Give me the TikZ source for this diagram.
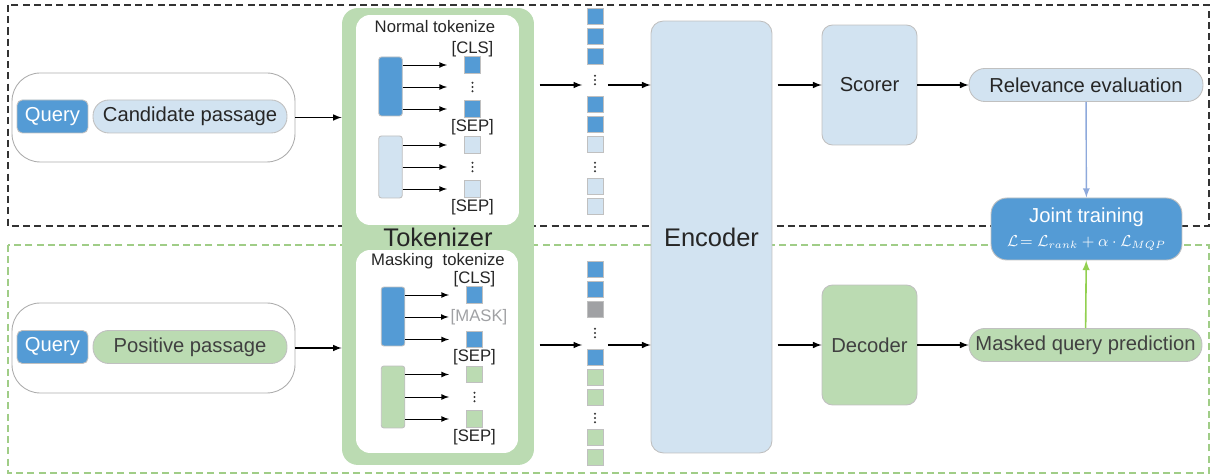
\documentclass[tikz,border=0pt]{standalone}
\usepackage{fontspec}
\setmainfont{Liberation Sans}
\usepackage{amsmath}
\usetikzlibrary{positioning, arrows, calc}

\definecolor{qblue}{RGB}{84,155,213}
\definecolor{lblue}{RGB}{210,227,241}
\definecolor{lgreen}{RGB}{187,219,178}
\definecolor{mgray}{RGB}{160,161,164}
\definecolor{edgegray}{RGB}{192,192,192}
\definecolor{txtgray}{RGB}{38,38,38}
\definecolor{darktxt}{RGB}{64,64,64}
\definecolor{arrblue}{RGB}{142,169,219}
\definecolor{arrgreen}{RGB}{146,208,80}
\definecolor{dashgreen}{RGB}{160,205,135}

\tikzset{
	blk/.style={draw=edgegray, line width=0.5pt, rectangle, rounded corners=6pt, inner sep=0pt, text=txtgray, font=\fontsize{11.5}{13}\selectfont},
	bigfont/.style={font=\fontsize{14.5}{16}\selectfont},
	pill/.style={blk, rounded corners=9pt, minimum height=0.66cm},
	qbox/.style={blk, fill=qblue, text=white, rounded corners=3pt, minimum width=1.42cm, minimum height=0.66cm},
	inbox/.style={draw=edgegray!90!black, line width=0.5pt, rounded corners=16pt},
	seg/.style={draw=edgegray, line width=0.5pt, rounded corners=1.5pt, minimum width=0.47cm, inner sep=0pt},
	tok/.style={draw=edgegray, line width=0.5pt, minimum size=0.33cm, inner sep=0pt},
	coltok/.style={tok, minimum size=0.32cm},
	lbl/.style={font=\fontsize{9.5}{10}\selectfont, text=txtgray, inner sep=1pt},
	dotcol/.style={inner sep=0pt, minimum width=0.33cm, minimum height=0.3cm,
		path picture={\foreach \d in {-2.4,0,2.4} \fill[black!80] ([yshift=\d pt]path picture bounding box.center) circle (0.6pt);}},
	arr/.style={-latex, line width=0.7pt},
	thinarr/.style={-latex, line width=0.5pt},
	rankline/.style={draw=black!80, line width=0.6pt, dash pattern=on 4pt off 2.4pt},
	mqpline/.style={draw=dashgreen, line width=0.7pt, dash pattern=on 4pt off 2.4pt},
}

\begin{document}
\begin{tikzpicture}[x=0.02cm, y=-0.02cm]
	\useasboundingbox (0,0) rectangle (1214,475);
	
	%Regions
	\draw[rankline] (8,5) rectangle (1209,226);
	\draw[mqpline] (8,245) rectangle (1209,473);
	
	%Inputs
	\node (InputTop) at (153.5,117.5) [inbox, minimum width=5.66cm, minimum height=1.78cm]{};
	\node (QueryTop) at (52.5,116.5) [qbox]{Query};
	\node (Candidate) at (190,116.5) [pill, fill=lblue, minimum width=3.88cm]{Candidate passage};
	
	\node (InputBot) at (153.5,348) [inbox, minimum width=5.66cm, minimum height=1.8cm]{};
	\node (QueryBot) at (52.5,347) [qbox]{Query};
	\node (Positive) at (190,347) [pill, fill=lgreen, text=darktxt, minimum width=3.88cm]{Positive passage};
	
	%Tokenizer
	\node (Tokenizer) at (438,236.5) [fill=lgreen, rounded corners=9pt, minimum width=3.84cm, minimum height=9.14cm]{};
	\node (TokenizerName) at (438,237) [bigfont, text=txtgray, inner sep=0pt]{Tokenizer};
	\node (NormalBox) at (437.5,120) [fill=white, rounded corners=8pt, minimum width=3.26cm, minimum height=4.2cm]{};
	\node (MaskBox) at (437,351.5) [fill=white, rounded corners=8pt, minimum width=3.24cm, minimum height=4.06cm]{};
	
	\node (NormalName) at (435,27) [lbl]{Normal tokenize};
	\node (SegA) at (390.5,86.5) [seg, fill=qblue, minimum height=1.18cm]{};
	\node (SegB) at (390.5,167) [seg, fill=lblue, minimum height=1.24cm]{};
	\node (NormA) at (472.5,65) [tok, fill=qblue]{};
	\node (NormDotsA) at (472.5,87) [dotcol]{};
	\node (NormB) at (472.5,109) [tok, fill=qblue]{};
	\node (NormC) at (472.5,145) [tok, fill=lblue]{};
	\node (NormDotsB) at (472.5,167) [dotcol]{};
	\node (NormD) at (472.5,189) [tok, fill=lblue]{};
	\node [lbl, above=-1.5pt of NormA]{[CLS]};
	\node [lbl, below=-0.5pt of NormB]{[SEP]};
	\node [lbl, below=-0.5pt of NormD]{[SEP]};
	
	\node (MaskName) at (438,261) [lbl]{Masking\ \ tokenize};
	\node (SegC) at (393,316.5) [seg, fill=qblue, minimum height=1.18cm]{};
	\node (SegD) at (393,397) [seg, fill=lgreen, minimum height=1.24cm]{};
	\node (MaskA) at (474.5,295) [tok, fill=qblue]{};
	\node (MaskTok) at (479,317) [lbl, text=mgray]{[MASK]};
	\node (MaskB) at (474.5,339.5) [tok, fill=qblue]{};
	\node (MaskC) at (474.5,374.5) [tok, fill=lgreen]{};
	\node (MaskDots) at (474.5,397) [dotcol]{};
	\node (MaskD) at (474.5,419) [tok, fill=lgreen]{};
	\node [lbl, above=-1.5pt of MaskA]{[CLS]};
	\node [lbl, below=-0.5pt of MaskB]{[SEP]};
	\node [lbl, below=-0.5pt of MaskD]{[SEP]};
	
	\foreach \t in {NormA,NormDotsA,NormB}
	\draw[thinarr] (SegA.east |- \t) -- ([xshift=-9.6pt]\t.west);
	\foreach \t in {NormC,NormDotsB,NormD}
	\draw[thinarr] (SegB.east |- \t) -- ([xshift=-9.6pt]\t.west);
	\foreach \t in {MaskA,MaskB}
	\draw[thinarr] (SegC.east |- \t) -- ([xshift=-9.6pt]\t.west);
	\draw[thinarr] (SegC.east |- MaskTok) -- (MaskTok.west);
	\foreach \t in {MaskC,MaskDots,MaskD}
	\draw[thinarr] (SegD.east |- \t) -- ([xshift=-9.6pt]\t.west);
	
	%Token sequences
	\foreach \y/\c [count=\i] in {16/qblue,36/qblue,56/qblue,104.5/qblue,124.5/qblue,144.5/lblue,186.5/lblue,206.5/lblue}
	\node (SeqTop\i) at (595,\y) [coltok, fill=\c]{};
	\foreach \y/\c [count=\i] in {269.5/qblue,289.5/qblue,309/mgray,357/qblue,377/lgreen,397/lgreen,437.5/lgreen,457.5/lgreen}
	\node (SeqBot\i) at (595,\y) [coltok, fill=\c]{};
	\node (SeqTopDotsA) at (595,80) [dotcol, minimum width=0.5cm]{};
	\node (SeqTopDotsB) at (595,167) [dotcol]{};
	\node (SeqBotDotsA) at (595,333) [dotcol, minimum width=0.5cm]{};
	\node (SeqBotDotsB) at (595,418) [dotcol]{};
	
	%Encoder and heads
	\node (Encoder) at (711.5,237) [blk, bigfont, fill=lblue, rounded corners=7pt, minimum width=2.42cm, minimum height=8.64cm]{Encoder};
	\node (Scorer) at (869.5,85) [blk, fill=lblue, minimum width=1.9cm, minimum height=2.4cm]{Scorer};
	\node (Decoder) at (869.5,345) [blk, fill=lgreen, text=darktxt, minimum width=1.9cm, minimum height=2.4cm]{Decoder};
	\node (Relevance) at (1086,85) [pill, fill=lblue, minimum width=4.68cm]{Relevance evaluation};
	\node (Masked) at (1085.5,345) [pill, fill=lgreen, text=darktxt, minimum width=4.66cm]{Masked query prediction};
	\node (Joint) at (1086.5,229) [blk, fill=qblue, text=white, rounded corners=9pt, minimum width=3.82cm, minimum height=1.24cm, align=center]{Joint training\\[1pt] {\fontsize{9}{10}\selectfont $\mathcal{L}\!=\mathcal{L}_{rank}+\alpha\cdot\mathcal{L}_{MQP}$}};
	
	%Links
	\draw[arr] (InputTop) -- (Tokenizer.west |- InputTop);
	\draw[arr] (InputBot) -- (Tokenizer.west |- InputBot);
	\draw[arr, shorten <=3pt] (Tokenizer.east |- Scorer) -- (SeqTopDotsA.west |- Scorer);
	\draw[arr, shorten <=3pt] (Tokenizer.east |- Decoder) -- (SeqBotDotsA.west |- Decoder);
	\draw[arr] (SeqTopDotsA.east |- Scorer) -- (Encoder.west |- Scorer);
	\draw[arr] (SeqBotDotsA.east |- Decoder) -- (Encoder.west |- Decoder);
	\draw[arr, shorten <=3pt] (Encoder.east |- Scorer) -- (Scorer.west);
	\draw[arr, shorten <=3pt] (Encoder.east |- Decoder) -- (Decoder.west);
	\draw[arr] (Scorer) -- (Relevance);
	\draw[arr] (Decoder) -- (Masked);
	\draw[-latex, arrblue, line width=0.8pt] (Relevance) -- (Joint);
	\draw[-latex, arrgreen, line width=0.9pt] (Masked) -- (Joint);
	
\end{tikzpicture}
\end{document}
